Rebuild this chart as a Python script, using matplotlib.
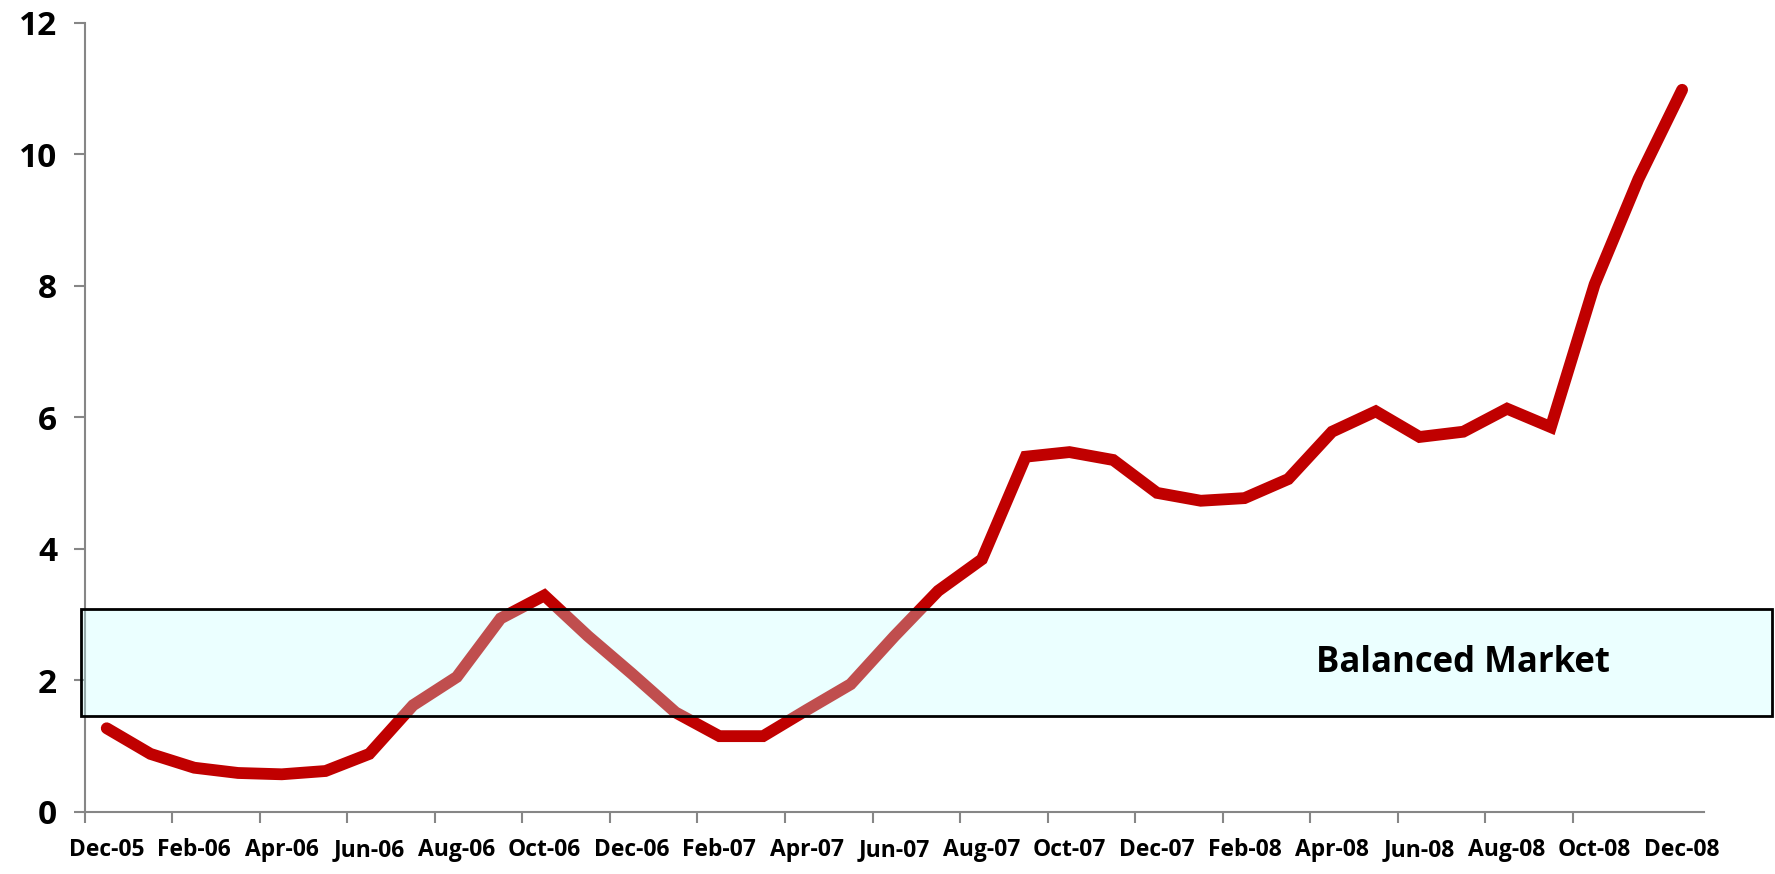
import matplotlib.pyplot as plt
from matplotlib.patches import Rectangle

plt.rcParams['font.family'] = ['Open Sans', 'DejaVu Sans']

# monthly values Dec-05 .. Dec-08
months = ["Dec-05", "Jan-06", "Feb-06", "Mar-06", "Apr-06", "May-06", "Jun-06",
          "Jul-06", "Aug-06", "Sep-06", "Oct-06", "Nov-06", "Dec-06",
          "Jan-07", "Feb-07", "Mar-07", "Apr-07", "May-07", "Jun-07",
          "Jul-07", "Aug-07", "Sep-07", "Oct-07", "Nov-07", "Dec-07",
          "Jan-08", "Feb-08", "Mar-08", "Apr-08", "May-08", "Jun-08",
          "Jul-08", "Aug-08", "Sep-08", "Oct-08", "Nov-08", "Dec-08"]
values = [1.27, 0.88, 0.67, 0.59, 0.57, 0.62, 0.88,
          1.62, 2.05, 2.94, 3.29, 2.67, 2.10,
          1.51, 1.15, 1.15, 1.55, 1.94, 2.67,
          3.36, 3.84, 5.40, 5.47, 5.35, 4.85,
          4.73, 4.77, 5.06, 5.78, 6.09, 5.70,
          5.78, 6.13, 5.85, 8.02, 9.62, 10.98]

# balanced market band
band_low = 1.46
band_high = 3.08
band_label = "Balanced Market"

fig = plt.figure(figsize=(17.75, 8.74), dpi=100)
ax = fig.add_axes([0.0478, 0.0712, 0.9122, 0.9028])

x = list(range(len(values)))
ax.plot(x, values, color="#C00000", lw=8.5, solid_capstyle="round",
        solid_joinstyle="miter", zorder=2)

# band drawn over the line, semi transparent
ax.add_patch(Rectangle((-0.58, band_low), 38.63, band_high - band_low,
                       facecolor=(192/255, 1, 1, 0.31), edgecolor="black",
                       lw=2, clip_on=False, zorder=3))
ax.text(31.0, (band_low + band_high) / 2, band_label, fontsize=25,
        fontweight="bold", ha="center", va="center", zorder=4)

ax.set_xlim(-0.5, len(values) - 0.5)
ax.set_ylim(0, 12)

ax.set_yticks(range(0, 13, 2))
ax.set_yticklabels([str(v) for v in range(0, 13, 2)], fontsize=24, fontweight="bold")

# ticks at category boundaries, labels at category centres
ax.set_xticks([i - 0.5 for i in range(0, len(values) - 1, 2)])
ax.set_xticklabels([])
ax.set_xticks(list(range(0, len(values), 2)), minor=True)
ax.set_xticklabels(months[::2], minor=True, fontsize=16.5, fontweight="bold")
ax.tick_params(axis="x", which="minor", length=0, pad=19)
ax.tick_params(axis="x", which="major", length=8, width=1.5, color="#868686")
ax.tick_params(axis="y", length=8, width=1.5, color="#868686", pad=12)

for s in ["top", "right"]:
    ax.spines[s].set_visible(False)
for s in ["left", "bottom"]:
    ax.spines[s].set_color("#868686")
    ax.spines[s].set_linewidth(1.5)

fig.savefig("out.png", dpi=100)
